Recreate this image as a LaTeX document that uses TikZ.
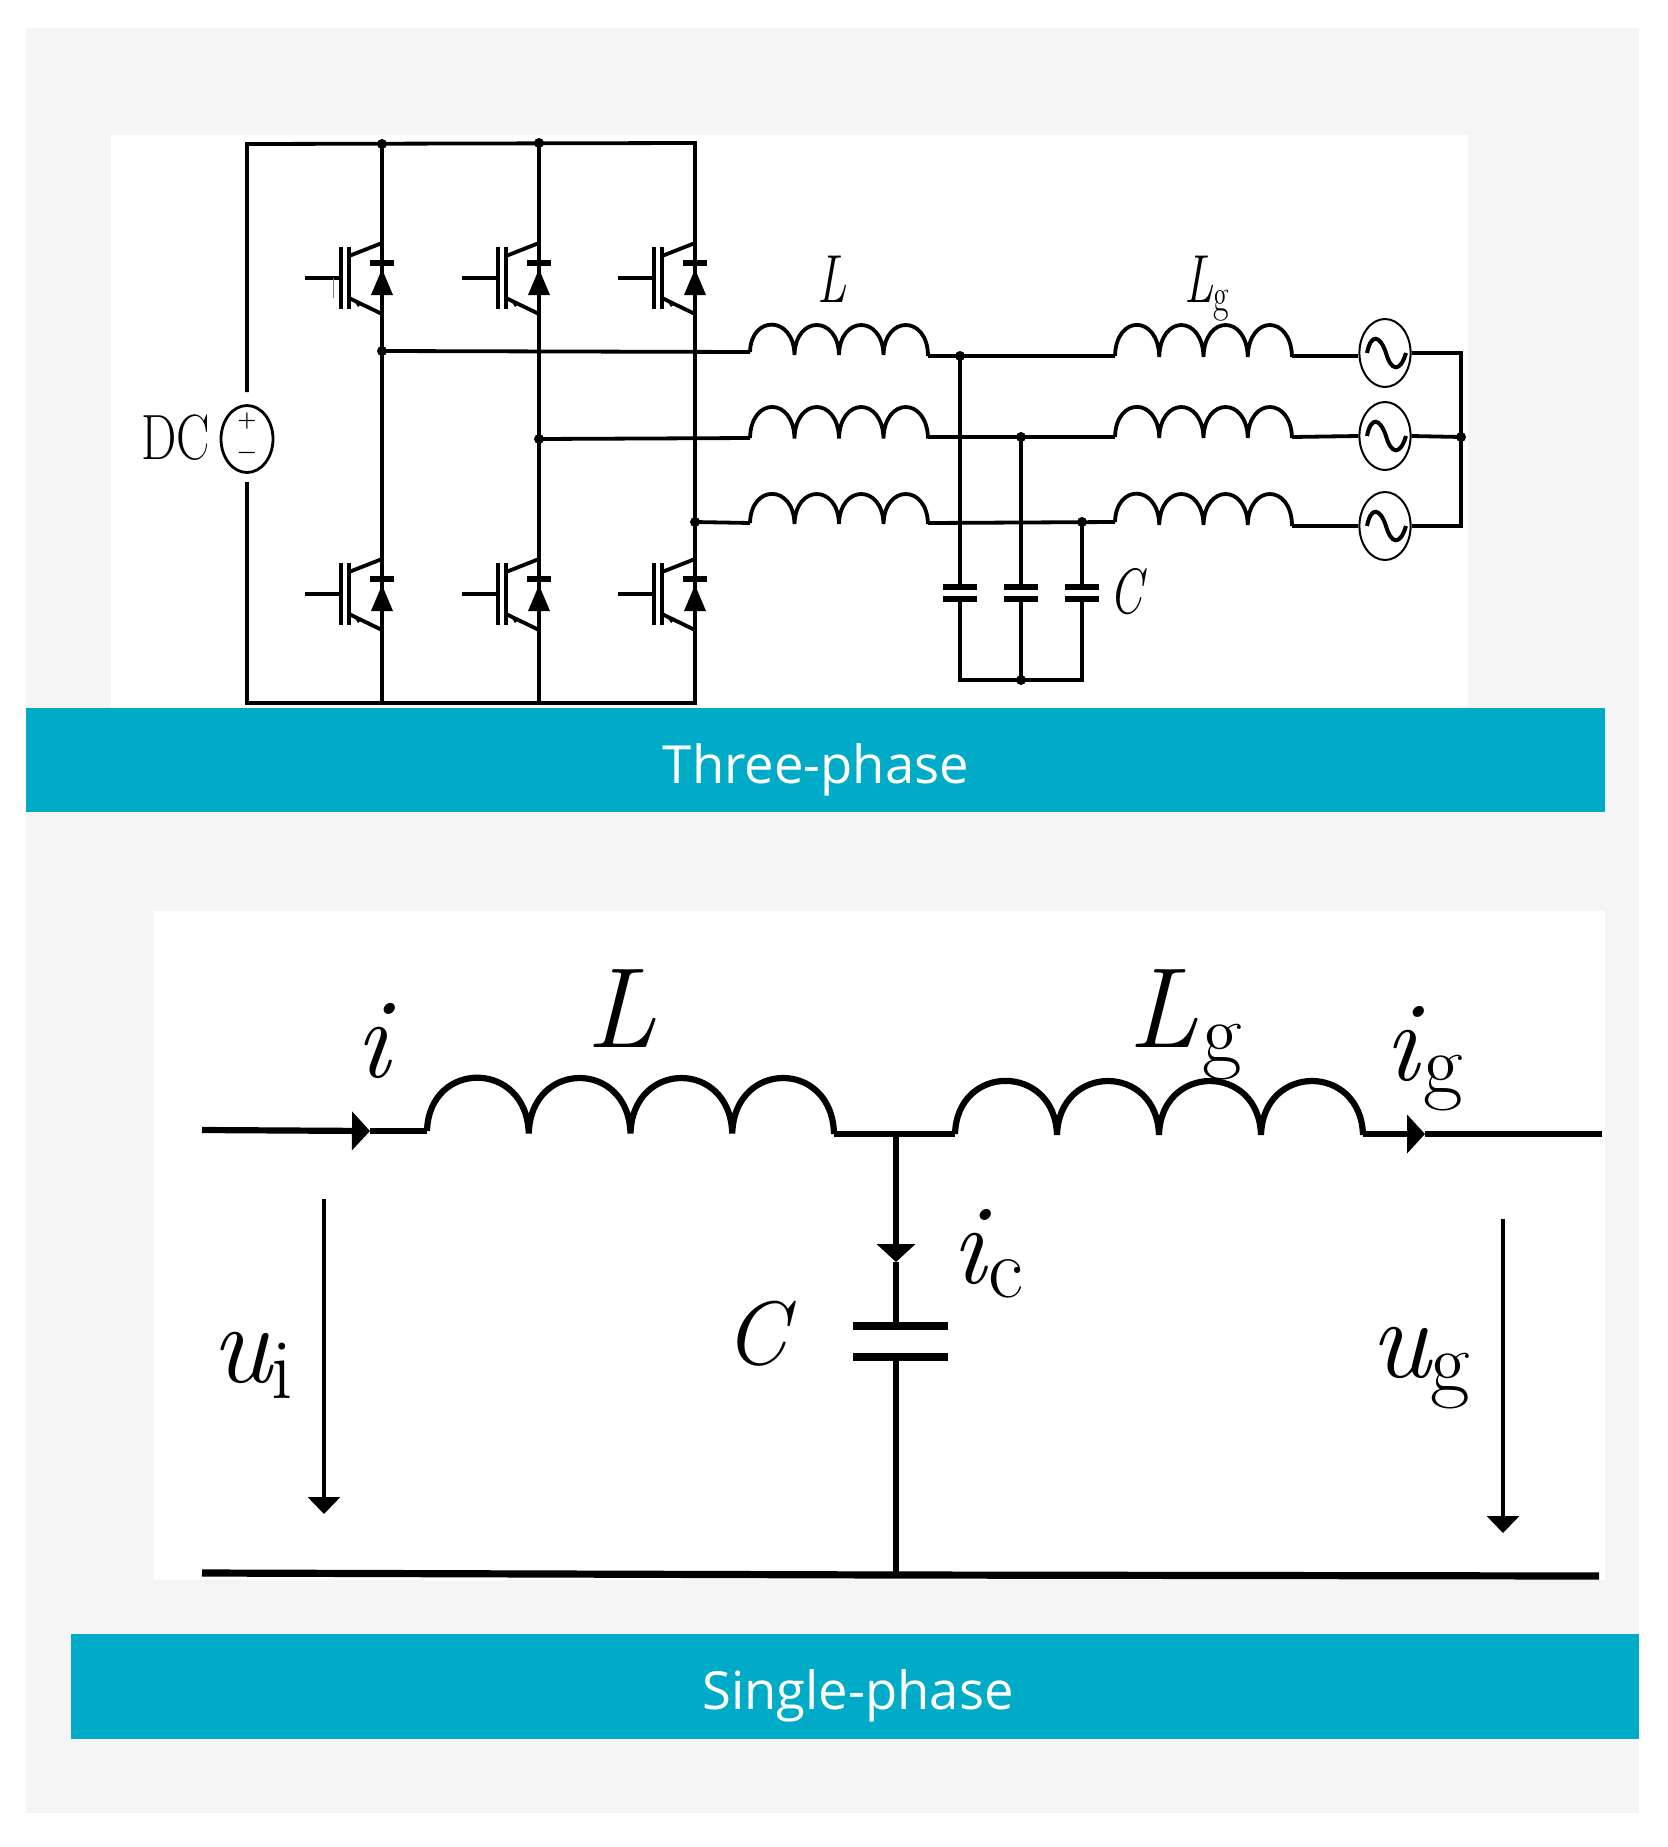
\documentclass[tikz,border=0pt]{standalone}
\usepackage{fontspec}
\newfontfamily\capfont{Open Sans}
\usetikzlibrary{shapes.geometric,arrows.meta}
\definecolor{panel}{HTML}{F5F5F5}
\definecolor{teal}{HTML}{00ABC8}
\newcommand\fsz[1]{\fontsize{#1}{#1}\selectfont}
\newcommand\heavy{\addfontfeature{FakeBold=0.5}}
\newcommand\subs[3]{\raisebox{-#2pt}{\fsz{#1}\upshape #3}}
% \coil{name}{x in}{y in}{x out}{y out}{y top}{style}
\newcommand\coil[7]{%
  \coordinate (#1-in) at (#2,#3);
  \coordinate (#1-out) at (#4,#5);
  \pgfmathsetmacro\cw{(#4-#2)/4}
  \pgfmathsetmacro\cb{(#3+#5)/2+1}
  \pgfmathsetmacro\cc{\cb-(\cb-#6)*4/3}
  \draw[#7] (#1-in)
    \foreach \k in {0,1,2,3}{
      \pgfextra{\pgfmathsetmacro\xa{#2+\k*\cw}\pgfmathsetmacro\xb{\xa+\cw}}
      .. controls (\xa+0.02*\cw,\cc) and (\xb-0.02*\cw,\cc) .. (\xb,\cb)
    } -- (#1-out);
}
% \igbt{x of rail}{y of gate}
\newcommand\igbt[2]{%
  \begin{scope}[shift={(#1,#2)}]
    \draw[wire] (-77,0) -- (-41,0);
    \draw[wire] (-41,-31) -- (-41,31);
    \draw[wire] (-33,-31) -- (-33,31);
    \draw[wire] (-33,-22) -- (0,-35);
    \draw[wire] (-33,20) -- (0,36);
    \fill (-29,21) -- (-20,25) -- (-24,29) -- cycle;
    \draw[line width=2.8pt] (-12,-15) -- (12,-15);
    \fill (0,-9) -- (11,17) -- (-11,17) -- cycle;
  \end{scope}
}
\tikzset{
  wire/.style={line width=1.9pt},
  thick wire/.style={line width=3.1pt},
  junction/.style={circle,fill=black,inner sep=0pt,minimum size=5pt},
  txt/.style={inner sep=0pt,anchor=base west},
  barlabel/.style={text=white,inner sep=0pt,font=\capfont\fsz{26.3}},
  acsource/.style={ellipse,draw,line width=1pt,fill=white,minimum width=25.6pt,minimum height=34pt,inner sep=0pt},
  plate/.style={line width=2.8pt},
  bigplate/.style={line width=3.8pt}
}
\begin{document}
\begin{tikzpicture}[x=0.5pt,y=-0.5pt]
\useasboundingbox (0,0) rectangle (1667,1847);
\fill[white] (0,0) rectangle (1667,1847);
\fill[panel] (26,28) rectangle (1639,1813);
\fill[white] (111,135) rectangle (1468,708);
\fill[white] (154,911) rectangle (1605,1580);

% ---------- three-phase ----------
\coordinate (tl) at (247,144);
\coordinate (t1) at (382,144);
\coordinate (t2) at (539,143);
\coordinate (tr) at (695,143);
\coordinate (bl) at (247,703);
\coordinate (b1) at (382,703);
\coordinate (b2) at (539,703);
\coordinate (br) at (695,703);
\coordinate (p1) at (382,351);
\coordinate (p2) at (539,439);
\coordinate (p3) at (695,522);
\node[ellipse,draw,line width=1.4pt,minimum width=26pt,minimum height=33.5pt,inner sep=0pt] (dc) at (247,439) {};
\coordinate (dct) at (247,392);
\coordinate (dcb) at (247,482);
\node[inner sep=0pt] (plus) at (247,421) {\fsz{11}\bfseries +};
\node[inner sep=0pt] (minus) at (247,455) {\fsz{11}\bfseries −};
\node[txt] (dclabel) at (141,459) {\scalebox{0.78}[1]{\fsz{32}\heavy DC}};
\draw[wire] (dct) -- (tl) -- (tr) -- (br) -- (bl) -- (dcb);
\draw[wire] (t1) -- (b1);
\draw[wire] (t2) -- (b2);
\foreach \cx in {382,539,695} {\igbt{\cx}{278}\igbt{\cx}{594}}
\draw[line width=0.4pt,gray] (333,278) -- (333,298);
\foreach \j in {t1,t2,p1,p2,p3} \node[junction] at (\j) {};

\coil{A}{750}{352}{928}{356}{325}{wire}
\coil{B}{750}{438}{928}{437}{407}{wire}
\coil{D}{750}{523}{928}{523}{494}{wire}
\coil{E}{1115}{356}{1292}{356}{325}{wire}
\coil{F}{1115}{437}{1292}{437}{407}{wire}
\coil{G}{1115}{522}{1292}{526}{494}{wire}
\draw[wire] (p1) -- (A-in);
\draw[wire] (p2) -- (B-in);
\draw[wire] (p3) -- (D-in);
\draw[wire] (A-out) -- (E-in);
\draw[wire] (B-out) -- (F-in);
\draw[wire] (D-out) -- (G-in);

\coordinate (c1t) at (960,356);
\coordinate (c2t) at (1021,437);
\coordinate (c3t) at (1082,522);
\coordinate (c1b) at (960,680);
\coordinate (c2b) at (1021,680);
\coordinate (c3b) at (1082,680);
\draw[wire] (c1t) -- (960,587);
\draw[wire] (c2t) -- (1021,587);
\draw[wire] (c3t) -- (1082,587);
\draw[wire] (960,599) -- (c1b) -- (c3b) -- (1082,599);
\draw[wire] (1021,599) -- (c2b);
\foreach \cx in {960,1021,1082} {
  \draw[plate] (\cx-17,587) -- (\cx+17,587);
  \draw[plate] (\cx-17,599) -- (\cx+17,599);
}
\foreach \j in {c1t,c2t,c3t,c2b} \node[junction] at (\j) {};

\node[acsource] (s1) at (1385,353) {};
\node[acsource] (s2) at (1385,436) {};
\node[acsource] (s3) at (1385,526) {};
\draw[wire] (E-out) -- (s1.west |- E-out);
\draw[wire] (F-out) -- (s2.west);
\draw[wire] (G-out) -- (s3.west);
\coordinate (r1) at (1461,353);
\coordinate (r2) at (1461,437);
\coordinate (r3) at (1461,526);
\draw[wire] (s1.east) -- (r1) -- (r3) -- (s3.east);
\draw[wire] (s2.east) -- (r2);
\node[junction] at (r2) {};
\foreach \s in {s1,s2,s3} {
  \begin{scope}[shift={(\s.center)}]
    \draw[line width=2pt] (-18,0) .. controls (-14,-20) and (-5,-18) .. (1,0) .. controls (6,18) and (15,20) .. (21,0);
  \end{scope}
}
\node[txt] (uL) at (817,302) {\scalebox{0.7}[1]{\fsz{34}\itshape\heavy L}};
\node[txt] (uLg) at (1184,302) {\scalebox{0.7}[1]{\fsz{34}\itshape\heavy L\subs{24}{4.5}{g}}};
\node[txt] (uC) at (1109,613) {\scalebox{0.74}[1]{\fsz{32}\itshape\heavy C}};

\fill[teal] (26,708) rectangle (1605,812);
\node[barlabel] (bar1) at (816,770) {Three-phase};

% ---------- single-phase ----------
\coordinate (iw) at (202,1130);
\coordinate (itip) at (370,1131);
\coordinate (otip) at (1425,1134);
\coordinate (oe) at (1602,1134);
\coordinate (jn) at (896,1134);
\coordinate (ctip) at (896,1262);
\coordinate (ct) at (896,1326);
\coordinate (cb) at (896,1357);
\coordinate (gl) at (202,1573);
\coordinate (gm) at (896,1575);
\coordinate (gr) at (1599,1576);
\coil{H}{427}{1131}{834}{1134}{1078}{thick wire}
\coil{K}{955}{1134}{1363}{1134}{1081}{thick wire}
\draw[thick wire,-{Triangle[length=9pt,width=19pt]}] (iw) -- (itip);
\draw[thick wire] (itip) -- (H-in);
\draw[thick wire] (H-out) -- (K-in);
\draw[thick wire,-{Triangle[length=9pt,width=19pt]}] (K-out) -- (otip);
\draw[thick wire] (otip) -- (oe);
\draw[thick wire,-{Triangle[length=9pt,width=19pt]}] (jn) -- (ctip);
\draw[thick wire] (ctip) -- (ct);
\draw[thick wire] (cb) -- (gm);
\draw[bigplate] (853,1326) -- (948,1326);
\draw[bigplate] (853,1357) -- (948,1357);
\draw[line width=3.6pt] (gl) -- (gm) -- (gr);
\coordinate (ua) at (324,1199);
\coordinate (ub) at (324,1514);
\coordinate (va) at (1503,1219);
\coordinate (vb) at (1503,1533);
\draw[line width=1.6pt,-{Triangle[length=8.5pt,width=16pt]}] (ua) -- (ub);
\draw[line width=1.6pt,-{Triangle[length=8.5pt,width=16pt]}] (va) -- (vb);

\node[txt] (li) at (355,1077) {\fsz{57}\itshape\heavy i};
\node[txt] (lL) at (586,1047) {\fsz{57}\itshape\heavy L};
\node[txt] (lLg) at (1128,1047) {\fsz{57}\itshape\heavy L\kern2pt\subs{43}{7.5}{g}};
\node[txt] (lig) at (1384,1080) {\fsz{57}\itshape\heavy i\kern2.5pt\subs{43}{6.5}{g}};
\node[txt] (lic) at (951,1283) {\fsz{57}\itshape\heavy i\kern1.5pt\subs{43}{7}{c}};
\node[txt] (lC) at (724,1364) {\fsz{45}\itshape\heavy C};
\node[txt] (lui) at (211,1382) {\fsz{57}\itshape\heavy u\subs{43}{8}{i}};
\node[txt] (lug) at (1370,1377) {\fsz{57}\itshape\heavy u\subs{43}{7}{g}};

\fill[teal] (71,1634) rectangle (1639,1739);
\node[barlabel] (bar2) at (858,1696) {Single-phase};
\end{tikzpicture}
\end{document}
